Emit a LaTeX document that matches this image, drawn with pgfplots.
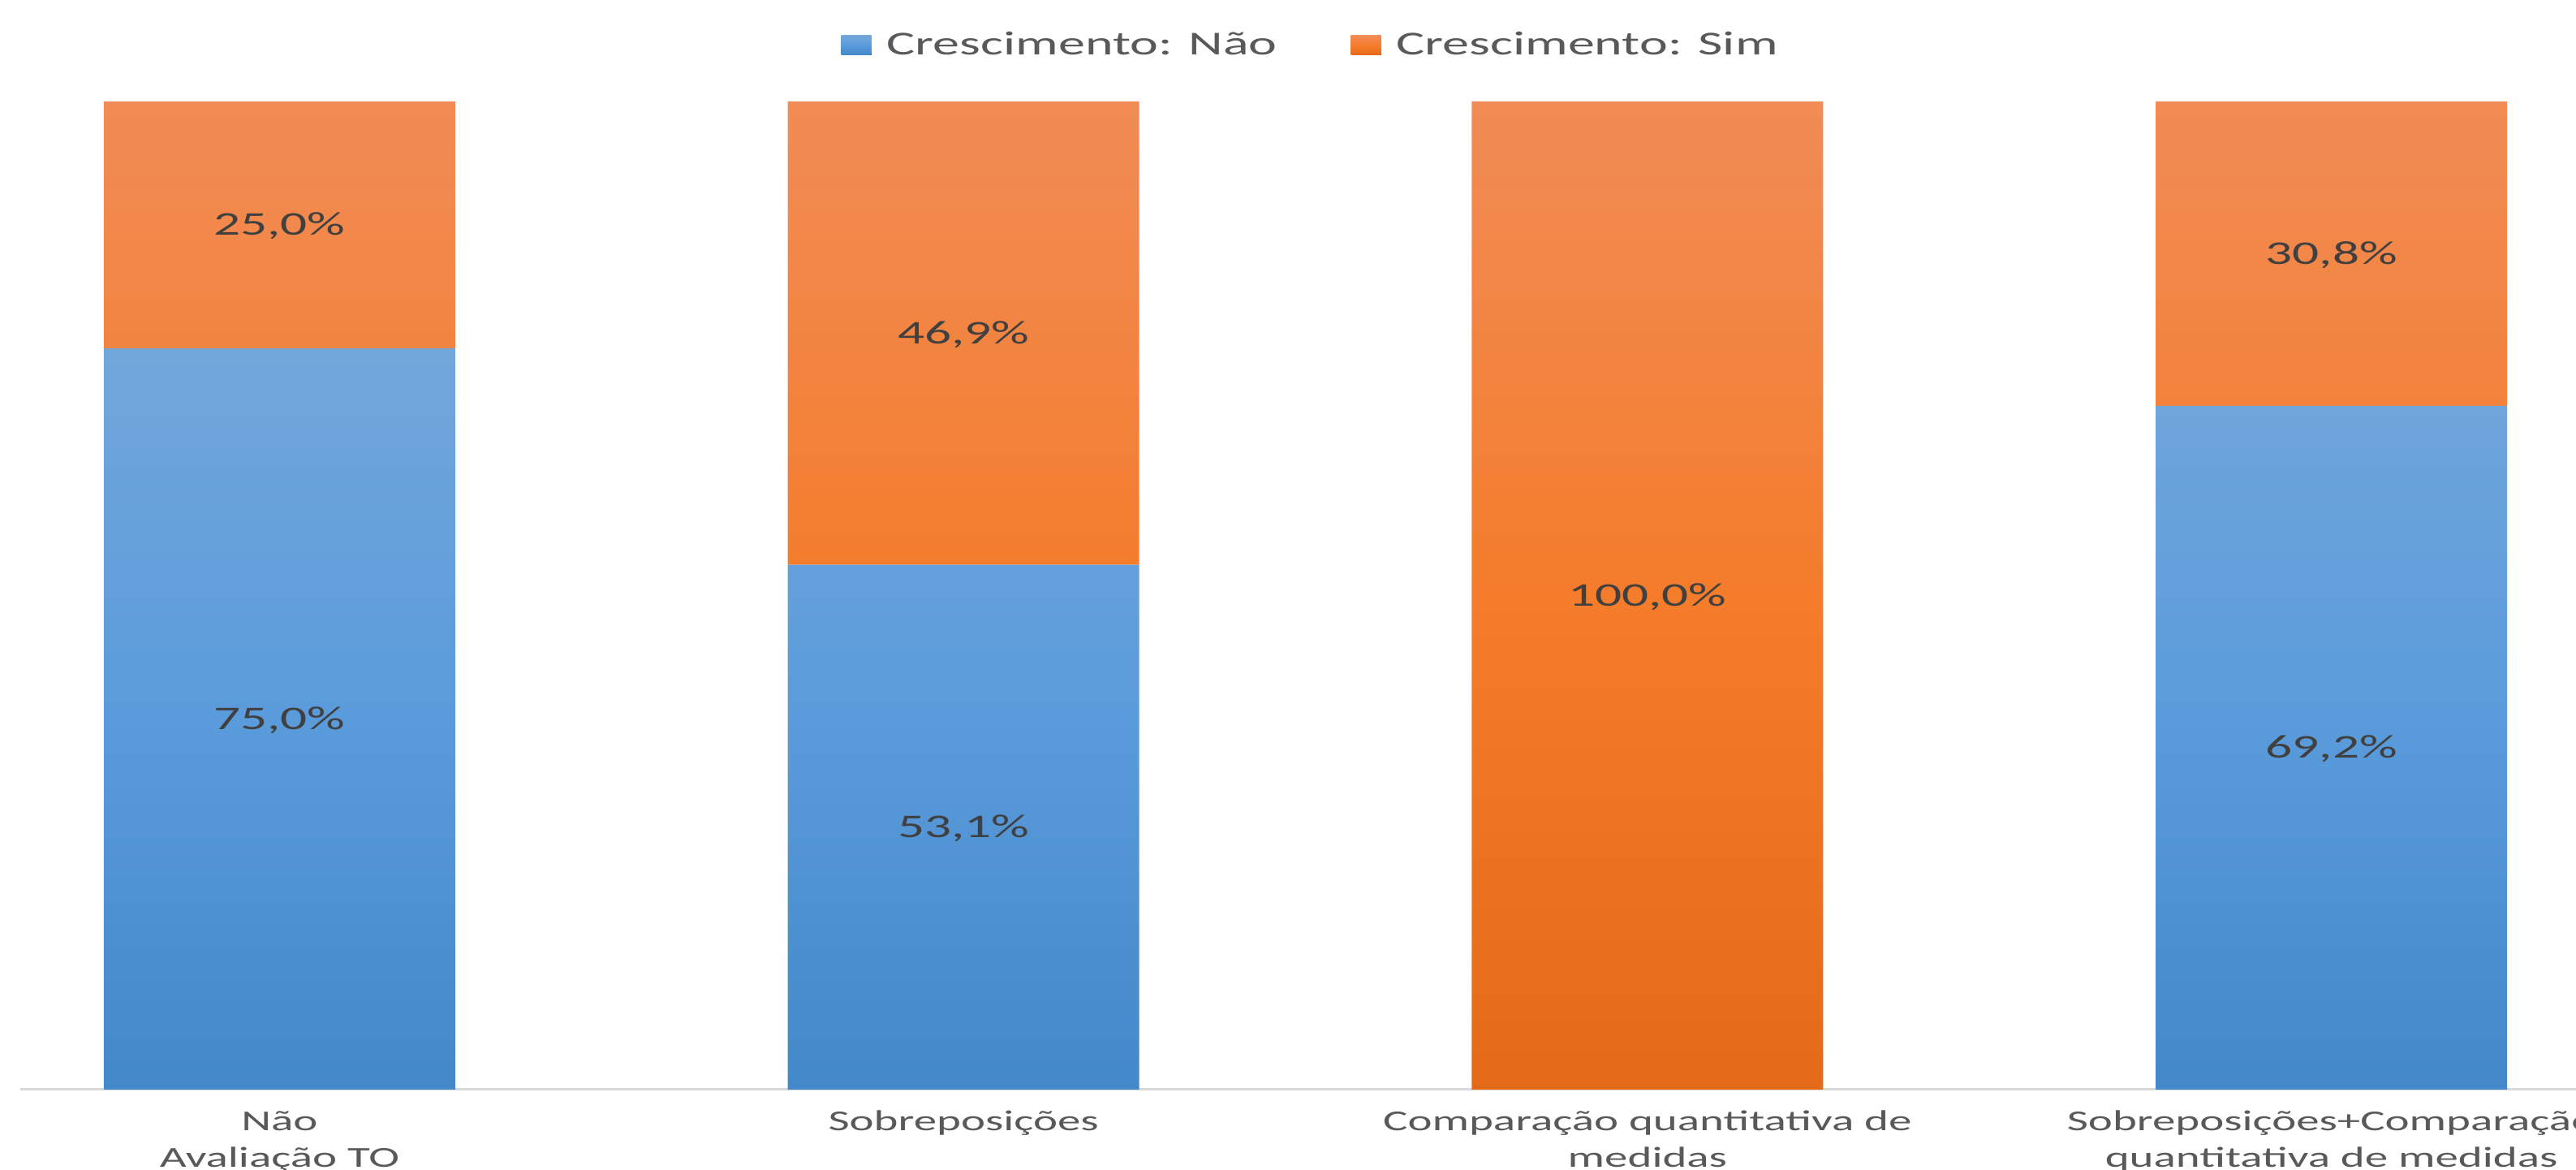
\documentclass[border=0pt]{standalone}
\usepackage{fontspec}
\setmainfont{Carlito}
\newfontfamily\widefont[FakeStretch=1.6]{Carlito}
\usepackage{pgfplots}
\pgfplotsset{compat=1.18}

\definecolor{blueT}{HTML}{72A7DB}
\definecolor{blueM}{HTML}{5A9BDB}
\definecolor{blueB}{HTML}{4388C8}
\definecolor{orangeT}{HTML}{F18C56}
\definecolor{orangeM}{HTML}{F47C2B}
\definecolor{orangeB}{HTML}{E46A17}
\definecolor{txtgray}{HTML}{595959}
\definecolor{lblgray}{HTML}{404040}
\definecolor{axisgray}{HTML}{D9D9D9}

% three-stop vertical gradients (path box maps to 25bp..75bp)
\pgfdeclareverticalshading{blueshade}{100bp}{color(0bp)=(blueB); color(25bp)=(blueB);
    color(50bp)=(blueM); color(75bp)=(blueT); color(100bp)=(blueT)}
\pgfdeclareverticalshading{orangeshade}{100bp}{color(0bp)=(orangeB); color(25bp)=(orangeB);
    color(50bp)=(orangeM); color(75bp)=(orangeT); color(100bp)=(orangeT)}

\tikzset{datalbl/.style={font=\widefont\fontsize{10.2}{12}\selectfont,
        text=lblgray, anchor=base, yshift=-3.2pt}}
\newcommand\lb{\rule{0pt}{12.5pt}}

\begin{document}
\begin{tikzpicture}
\useasboundingbox (0,0) rectangle (793.5pt,360.25pt);
\begin{axis}[
    at={(6.25pt,24.75pt)}, anchor=south west,
    scale only axis, width=791.75pt, height=304.25pt,
    ybar stacked, bar width=108.25pt,
    xmin=-0.379, xmax=3.379, ymin=0, ymax=100,
    axis x line*=bottom, hide y axis,
    x axis line style={-, draw=axisgray, line width=0.75pt},
    xtick={0,1,2,3},
    xticklabels={{\lb Não\\Avaliação TO}, {\lb Sobreposições},
        {\lb Comparação quantitativa de\\medidas},
        {\lb Sobreposições+Comparação\\quantitativa de medidas}},
    major tick length=0pt,
    xticklabel style={font=\widefont\fontsize{8.9}{11.25}\selectfont,
        text=txtgray, align=center, anchor=north, inner sep=0pt},
    legend style={draw=none, fill=none, legend columns=2,
        at={(0.5,1)}, anchor=center, xshift=2.3pt, yshift=17.25pt,
        font=\widefont\fontsize{10.3}{12}\selectfont, text=txtgray,
        /tikz/every even column/.append style={column sep=20.75pt}},
    legend image code/.code={\fill[#1] (0pt,-3pt) rectangle (9.25pt,3pt); \path (12pt,0pt);},
]
% Crescimento: Nao
\addplot[draw=none, shade, shading=blueshade]
    coordinates {(0,75.0) (1,53.1) (2,0) (3,69.2)};
% Crescimento: Sim
\addplot[draw=none, shade, shading=orangeshade]
    coordinates {(0,25.0) (1,46.9) (2,100.0) (3,30.8)};
\legend{Crescimento: Não, Crescimento: Sim}

% anchor points for the data labels (centre of each segment)
\coordinate (n0) at (axis cs:0,37.5);
\coordinate (s0) at (axis cs:0,87.5);
\coordinate (n1) at (axis cs:1,26.55);
\coordinate (s1) at (axis cs:1,76.55);
\coordinate (s2) at (axis cs:2,50);
\coordinate (n3) at (axis cs:3,34.6);
\coordinate (s3) at (axis cs:3,84.6);
\end{axis}
\node[datalbl] at (n0) {75,0\%};
\node[datalbl] at (s0) {25,0\%};
\node[datalbl] at (n1) {53,1\%};
\node[datalbl] at (s1) {46,9\%};
\node[datalbl] at (s2) {100,0\%};
\node[datalbl] at (n3) {69,2\%};
\node[datalbl] at (s3) {30,8\%};
\end{tikzpicture}
\end{document}
